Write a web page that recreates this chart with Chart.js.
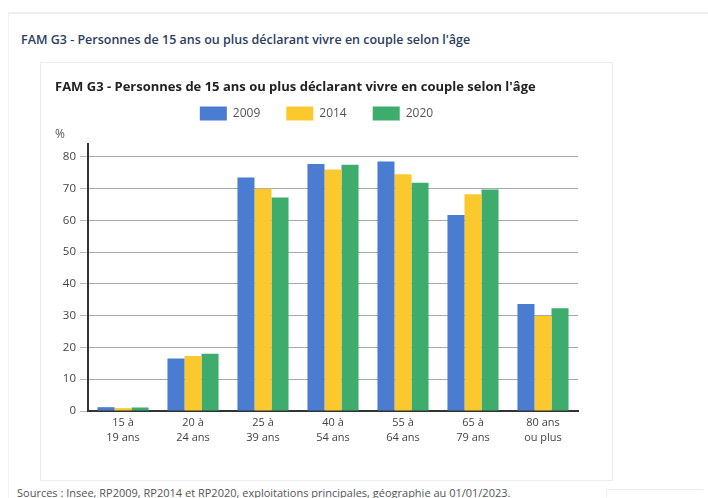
<!DOCTYPE html>
<html lang="fr">
<head>
<meta charset="utf-8">
<script src="https://cdn.jsdelivr.net/npm/chart.js@4.4.1/dist/chart.umd.min.js"></script>
<style>
  html, body { margin: 0; padding: 0; background: #fff; width: 708px; height: 498px; overflow: hidden; font-family: "Open Sans", sans-serif; }
  #panel { position: absolute; left: 8px; top: 12px; width: 700px; height: 490px; border-top: 2px solid #eeeeee; border-left: 1px solid #f2f2f2; }
  #outerTitle { position: absolute; left: 21px; top: 31px; font-size: 12.5px; font-weight: 600; color: #2c3d5e; white-space: nowrap; }
  #card { position: absolute; left: 40px; top: 62px; width: 571px; height: 417px; border: 1px solid #ececec; background: #fff; }
  #chartCanvas { position: absolute; left: 0; top: 0; }
  #sources { position: absolute; left: 17px; top: 485px; font-size: 11px; color: #555; white-space: nowrap; }
  #corner { position: absolute; left: 606px; top: 489px; width: 96px; height: 9px; border-top: 1px solid #ececec; border-left: 1px solid #f0f0f0; }
</style>
</head>
<body>
<div id="panel"></div>
<div id="outerTitle">FAM G3 - Personnes de 15 ans ou plus déclarant vivre en couple selon l'âge</div>
<div id="card"><canvas id="chartCanvas" width="570" height="416"></canvas></div>
<div id="sources">Sources : Insee, RP2009, RP2014 et RP2020, exploitations principales, géographie au 01/01/2023.</div>
<div id="corner"></div>
<script>
// ---- Data ----
const chartTitle = "FAM G3 - Personnes de 15 ans ou plus déclarant vivre en couple selon l'âge";
const unitLabel = "%";
const categories = [
  ["15 à", "19 ans"],
  ["20 à", "24 ans"],
  ["25 à", "39 ans"],
  ["40 à", "54 ans"],
  ["55 à", "64 ans"],
  ["65 à", "79 ans"],
  ["80 ans", "ou plus"]
];
const seriesNames = ["2009", "2014", "2020"];
const values2009 = [1.2, 16.5, 73.5, 77.7, 78.5, 61.7, 33.7];
const values2014 = [0.9, 17.3, 69.9, 76.0, 74.5, 68.2, 29.9];
const values2020 = [1.1, 18.0, 67.2, 77.5, 71.8, 69.7, 32.3];
const yTickValues = [0, 10, 20, 30, 40, 50, 60, 70, 80];

const seriesColors = ["#4a7cd1", "#fbc92e", "#3dac6c"];
const seriesValues = [values2009, values2014, values2020];

const datasets = seriesNames.map((name, i) => ({
  label: name,
  data: seriesValues[i],
  backgroundColor: seriesColors[i],
  borderWidth: 0,
  barPercentage: 1.0,
  categoryPercentage: 0.73
}));

new Chart(document.getElementById("chartCanvas"), {
  type: "bar",
  data: { labels: categories, datasets: datasets },
  options: {
    responsive: false,
    animation: false,
    layout: { padding: { left: 14, right: 33, top: 0, bottom: 0 } },
    plugins: {
      tooltip: { enabled: false },
      title: {
        display: true,
        text: chartTitle,
        align: "start",
        color: "#222",
        font: { family: "Open Sans", size: 13, weight: "bold" },
        padding: { top: 16, bottom: -14 }
      },
      subtitle: {
        display: true,
        text: unitLabel,
        align: "start",
        color: "#555",
        weight: 500,
        font: { family: "Open Sans", size: 12 },
        padding: { top: -3, bottom: 2 }
      },
      legend: {
        display: true,
        position: "top",
        labels: {
          boxWidth: 27,
          boxHeight: 14,
          padding: 26,
          color: "#555",
          font: { family: "Open Sans", size: 12 }
        }
      }
    },
    scales: {
      x: {
        grid: { display: false, drawTicks: false },
        border: { display: true, color: "#333", width: 2 },
        ticks: {
          color: "#444",
          padding: 4,
          maxRotation: 0,
          autoSkip: false,
          font: { family: "Open Sans", size: 11, lineHeight: 1.36 }
        },
        afterFit: (s) => { s.height = 68; }
      },
      y: {
        min: 0,
        max: 84,
        afterBuildTicks: (s) => { s.ticks = yTickValues.map(v => ({ value: v })); },
        grid: { color: "#a9a9a9", lineWidth: 1, tickLength: 8, tickColor: "#bbb", drawTicks: true },
        border: { display: true, color: "#333", width: 2 },
        ticks: {
          color: "#444",
          padding: 4,
          font: { family: "Open Sans", size: 11.5 }
        },
        afterFit: (s) => { s.width = 33; }
      }
    }
  }
});
</script>
</body>
</html>
